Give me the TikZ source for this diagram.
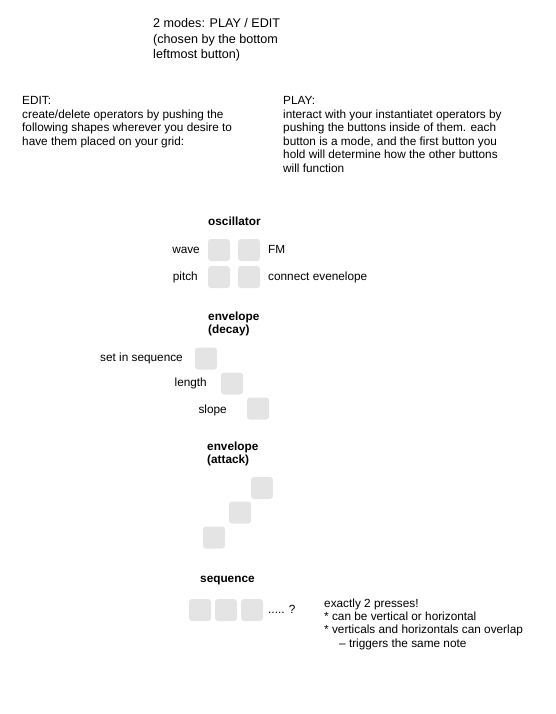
\documentclass[tikz,border=0pt]{standalone}
\usepackage{fontspec}
\setmainfont{Liberation Sans}
\usepackage{xcolor}
\usetikzlibrary{positioning}
\definecolor{padgray}{HTML}{E4E4E4}

\begin{document}
\begin{tikzpicture}[
		x=1pt,y=-1pt,
		every node/.style={
			inner sep=0pt,
			align=left,
			font=\fontsize{11.8}{13.4}\selectfont
		},
		pad/.style={
			fill=padgray,
			rounded corners=3pt,
			minimum size=22pt
		},
		head/.style={
			font=\fontsize{11.8}{13.4}\selectfont\bfseries
		}
		]
		\useasboundingbox (0,0) rectangle (555,714);
		
		% title and the two mode texts (base = last line)
		\node[anchor=base west,font=\fontsize{12.6}{15.8}\selectfont] (title) at (153,59) {2 modes: PLAY / EDIT\\(chosen by the bottom\\leftmost button)};
		\node[anchor=base west] (edit) at (22,145.2) {EDIT:\\create/delete operators by pushing the\\following shapes wherever you desire to\\have them placed on your grid:};
		\node[anchor=base west] (play) at (283,172) {PLAY:\\interact with your instantiatet operators by\\pushing the buttons inside of them. each\\button is a mode, and the first button you\\hold will determine how the other buttons\\will function};
		
		% oscillator
		\node[head,anchor=base west] (osc) at (208,225) {oscillator};
		\node[pad] (osc1) at (219,250) {};
		\node[pad] (osc2) at (249,250) {};
		\node[pad] (osc3) at (219,277) {};
		\node[pad] (osc4) at (249,277) {};
		\node[anchor=base east] (wave) at (200,253.5) {wave};
		\node[anchor=base east] (pitch) at (198,280.5) {pitch};
		\node[anchor=base west] (fm) at (268,253.5) {FM};
		\node[anchor=base west] (connenv) at (268,280.5) {connect evenelope};
		
		% envelope (decay)
		\node[head,anchor=base west] (decay) at (208,333.4) {envelope\\(decay)};
		\node[pad] (dec1) at (206,358.5) {};
		\node[pad] (dec2) at (232,383.5) {};
		\node[pad] (dec3) at (258,408.5) {};
		\node[anchor=base east] (setseq) at (183,361.5) {set in sequence};
		\node[anchor=base east] (length) at (207,386.5) {length};
		\node[anchor=base east] (slope) at (227,413) {slope};
		
		% envelope (attack)
		\node[head,anchor=base west] (attack) at (207,463.4) {envelope\\(attack)};
		\node[pad] (att1) at (262,488) {};
		\node[pad] (att2) at (240,512.5) {};
		\node[pad] (att3) at (214,537.5) {};
		
		% sequence
		\node[head,anchor=base west] (seq) at (200,582) {sequence};
		\node[pad] (seq1) at (200,610) {};
		\node[pad] (seq2) at (226,610) {};
		\node[pad] (seq3) at (252,610) {};
		\node[anchor=base west] (more) at (268,613.5) {..... ?};
		\node[anchor=base west] (note) at (324,647.2) {exactly 2 presses!\\* can be vertical or horizontal\\* verticals and horizontals can overlap\\\hspace{15pt}-- triggers the same note};
		
	\end{tikzpicture}
\end{document}
